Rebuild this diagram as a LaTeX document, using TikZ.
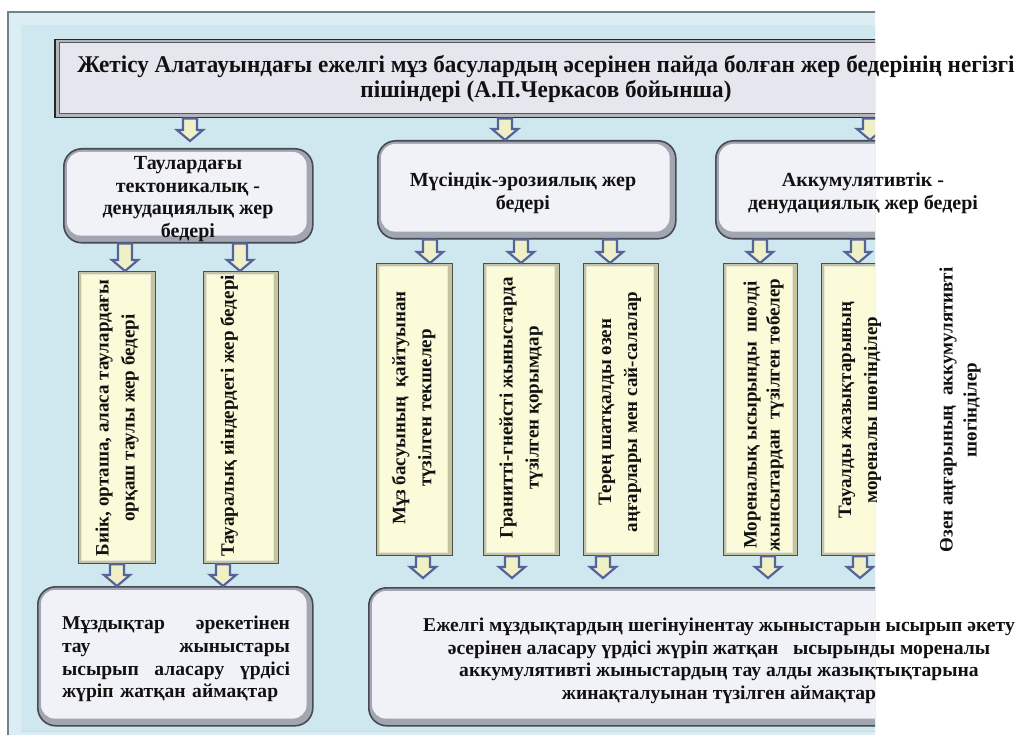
\documentclass[tikz,border=0pt]{standalone}
\usepackage{fontspec}
\setmainfont{Liberation Serif}
\newfontfamily\ttlfont[FakeStretch=0.965]{Liberation Serif}
\usetikzlibrary{calc}
\definecolor{panel}{HTML}{CFE7EE}
\definecolor{panelrim}{HTML}{DCEEF3}
\definecolor{panelline}{HTML}{6F8388}
\definecolor{titlefill}{HTML}{E6E6EE}
\definecolor{titlerim}{HTML}{B4B4BC}
\definecolor{rbline}{HTML}{464A54}
\definecolor{rbrim}{HTML}{A2A6B0}
\definecolor{rbfill}{HTML}{F1F2F8}
\definecolor{ybline}{HTML}{4E5048}
\definecolor{ybrim}{HTML}{C4C4A0}
\definecolor{ybfill}{HTML}{FBFBD9}
\definecolor{arrfill}{HTML}{F0F0C6}
\definecolor{arrline}{HTML}{56639A}
\definecolor{ink}{HTML}{111111}
\newcommand\darrow[2]{%
  \draw[blockarr] let \p1=(#1), \p2=(#2) in
    (\x1-7pt,\y1) -- (\x1+7pt,\y1) -- (\x1+7pt,\y2+11pt) -- (\x1+13pt,\y2+11pt)
    -- (\x1,\y2) -- (\x1-13pt,\y2+11pt) -- (\x1-7pt,\y2+11pt) -- cycle;}
\newcommand\jline[1]{\makebox[228pt][s]{#1}}
\begin{document}
\begin{tikzpicture}[x=1pt,y=-1pt,
  rbox/.style={draw=rbline, line width=1.6pt, fill=rbrim, rounded corners=18pt, inner sep=0pt, anchor=north west},
  rboxin/.style={fill=rbfill, rounded corners=14pt},
  ybox/.style={draw=ybline, line width=1.2pt, fill=ybrim, inner sep=0pt, anchor=north west},
  yboxin/.style={fill=ybfill, draw=white!60!ybrim, line width=0.8pt},
  tbox/.style={draw=black!85, line width=1.5pt, fill=titlerim, inner sep=0pt, anchor=north west},
  blockarr/.style={draw=arrline, fill=arrfill, line width=2.2pt, line join=miter},
  lbl/.style={text=ink, font=\bfseries, inner sep=0pt, align=center},
  ttl/.style={lbl, font=\ttlfont\bfseries\fontsize{24}{25}\selectfont},
  mid/.style={lbl, font=\bfseries\fontsize{20}{22.5}\selectfont},
  vert/.style={lbl, rotate=90, font=\bfseries\fontsize{19}{26}\selectfont},
  low/.style={lbl, font=\bfseries\fontsize{19.6}{22.6}\selectfont},
]
\useasboundingbox (0,0) rectangle (1020,735);
\fill[white] (0,0) rectangle (1020,735);
\begin{scope}
\clip (0,0) rectangle (875,735);
% panel
\fill[panelrim] (8,12) rectangle (900,745);
\draw[panelline, line width=1.5pt] (8,745) -- (8,12) -- (900,12);
\fill[panel] (21,25) rectangle (900,731);
\draw[white!70!panelline, line width=0.8pt] (21,731) -- (900,731);
% title
\node[tbox, minimum width=846, minimum height=78] (title) at (54,39) {};
\fill[titlefill, draw=black!65, line width=1pt] ([shift={(5,4)}]title.north west) rectangle ([shift={(-2,-5)}]title.south east);
% level 2
\node[rbox, minimum width=249, minimum height=94] (A) at (63,148) {};
\node[rbox, minimum width=298, minimum height=98] (B) at (377,140) {};
\node[rbox, minimum width=300, minimum height=98] (C) at (715,140) {};
\foreach \n in {A,B,C}{
  \fill[rboxin] ([shift={(4,4)}]\n.north west) rectangle ([shift={(-7,-8)}]\n.south east);
}
% level 3
\node[ybox, minimum width=77, minimum height=292] (Y1) at (78,271) {};
\node[ybox, minimum width=75, minimum height=292] (Y2) at (203,271) {};
\node[ybox, minimum width=76, minimum height=292] (YB1) at (376,263) {};
\node[ybox, minimum width=76, minimum height=292] (YB2) at (483,263) {};
\node[ybox, minimum width=75, minimum height=292] (YB3) at (583,263) {};
\node[ybox, minimum width=74, minimum height=292] (YC1) at (723,263) {};
\node[ybox, minimum width=75, minimum height=292] (YC2) at (821,263) {};
\foreach \n in {Y1,Y2,YB1,YB2,YB3,YC1,YC2}{
  \filldraw[yboxin] ([shift={(3,3)}]\n.north west) rectangle ([shift={(-6,-4)}]\n.south east);
}
% level 4
\node[rbox, minimum width=275, minimum height=139] (D) at (37,586) {};
\node[rbox, minimum width=600, minimum height=138] (E) at (368,587) {};
\foreach \n in {D,E}{
  \fill[rboxin] ([shift={(4,4)}]\n.north west) rectangle ([shift={(-7,-8)}]\n.south east);
}
% arrows
\darrow{title.south -| 190,0}{190,141}
\darrow{title.south -| 505,0}{B.north -| 505,0}
\darrow{title.south -| 870,0}{C.north -| 870,0}
\darrow{A.south -| 125,0}{Y1.north -| 125,0}
\darrow{A.south -| 240,0}{Y2.north -| 240,0}
\darrow{B.south -| 430,0}{YB1.north -| 430,0}
\darrow{B.south -| 521,0}{YB2.north -| 521,0}
\darrow{B.south -| 610,0}{YB3.north -| 610,0}
\darrow{C.south -| 760,0}{YC1.north -| 760,0}
\darrow{C.south -| 858,0}{YC2.north -| 858,0}
\darrow{Y1.south -| 117,0}{D.north -| 117,0}
\darrow{Y2.south -| 223,0}{D.north -| 223,0}
\darrow{YB1.south -| 423,0}{423,578}
\darrow{YB2.south -| 512,0}{512,578}
\darrow{YB3.south -| 603,0}{603,578}
\darrow{YC1.south -| 768,0}{768,578}
\darrow{YC2.south -| 860,0}{860,578}
\end{scope}
% texts
\node[ttl] (ttitle) at (546,79) {Жетісу Алатауындағы ежелгі мұз басулардың әсерінен пайда болған жер бедерінің негізгі\\пішіндері (А.П.Черкасов бойынша)};
\node[mid] (tA) at (188,199) {Таулардағы\\тектоникалық -\\денудациялық жер\\бедері};
\node[mid] (tB) at (523,193) {Мүсіндік-эрозиялық жер\\бедері};
\node[mid] (tC) at (863,193) {Аккумулятивтік -\\денудациялық жер бедері};
\node[vert] (tY1) at (117,418) {Биік, орташа, аласа таулардағы\\орқаш таулы жер бедері};
\node[vert] (tY2) at (229,416) {Тауаралық иіндердегі жер бедері};
\node[vert] (tYB1) at (413.5,408) {Мұз басуының\ \ қайтуынан\\түзілген текшелер};
\node[vert] (tYB2) at (521,408) {Граниттi-гнейстi жыныстарда\\түзілген қорымдар};
\node[vert] (tYB3) at (620,412) {Терең шатқалды өзен\\аңғарлары мен сай-салалар};
\node[vert, font=\bfseries\fontsize{19}{23}\selectfont] (tYC1) at (763.5,415) {Мореналық ысырынды\ \ шөлді\\жынсытардан\ \ түзілген төбелер};
\node[vert] (tYC2) at (860,410) {Тауалды жазықтарының\\мореналы шөгінділер};
\node[vert, font=\bfseries\fontsize{19}{24}\selectfont] (tYC3) at (960,410) {Өзен аңғарының\ \ аккумулятивті\\шөгінділер};
\node[low, align=left, text width=228] (tD) at (176,659) {\jline{Мұздықтар\hfill әрекетінен}\\\jline{тау\hfill жыныстары}\\\jline{ысырып\hfill аласару\hfill үрдісі}\\жүріп жатқан аймақтар};
\node[low] (tE) at (719,661) {Ежелгі мұздықтардың шегінуінентау жыныстарын ысырып әкету\\әсерінен аласару үрдісі жүріп жатқан\ \ \ ысырынды мореналы\\аккумулятивті жыныстардың тау алды жазықтықтарына\\жинақталуынан түзілген аймақтар};
\end{tikzpicture}
\end{document}
